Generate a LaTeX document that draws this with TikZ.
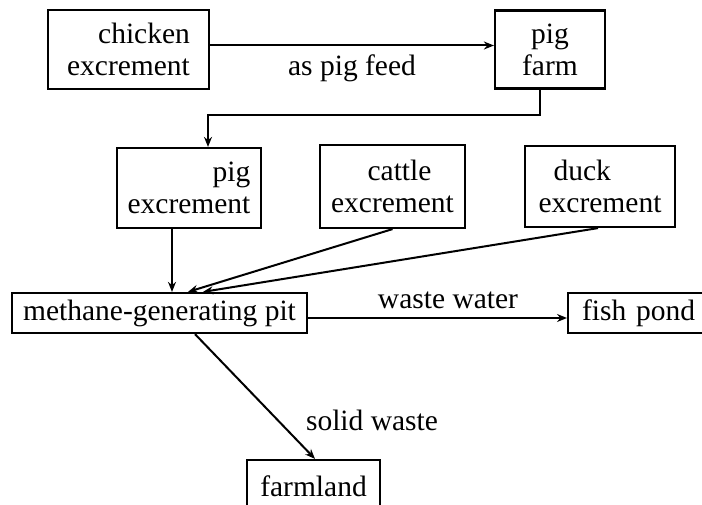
\documentclass[tikz,border=0pt]{standalone}
\usepackage{fontspec}
\setmainfont{Liberation Serif}
\usetikzlibrary{arrows.meta}
\begin{document}
\begin{tikzpicture}[x=1pt,y=-1pt,
  box/.style={draw,line width=2.2pt,inner sep=0pt,font=\fontsize{29.5}{32}\selectfont},
  lbl/.style={font=\fontsize{29.5}{32}\selectfont,inner sep=0pt},
  arr/.style={line width=2pt,-{Stealth[length=10pt,width=8pt]}}]
\useasboundingbox (0,0) rectangle (702,505);
\node[box,align=right,minimum width=161pt,minimum height=79pt] (ch) at (128.5,49.5) {chicken\\excrement};
\node[box,align=center,minimum width=110pt,minimum height=78pt] (pf) at (550,49.5) {pig\\farm};
\node[box,align=right,minimum width=144pt,minimum height=80pt] (pe) at (189,188) {pig\\excrement};
\node[box,align=center,minimum width=145pt,minimum height=83pt] (ce) at (392.5,186.5) {\hspace*{14pt}cattle\\excrement};
\node[box,align=left,minimum width=150pt,minimum height=81pt] (de) at (600,186.5) {\hspace*{15pt}duck\\excrement};
\node[box,minimum width=295pt,minimum height=40pt] (mp) at (159.5,313) {methane-generating pit};
\node[box,anchor=west,minimum width=150pt,minimum height=40pt,text width=140pt,align=left] (fp) at (567,313) {\hspace*{9pt}fish pond};
\node[box,minimum width=133pt,minimum height=52pt] (fl) at (313.5,486) {farmland};
\coordinate (m1) at (0,115);
\draw[arr] ([yshift=4pt]ch.east) -- ([yshift=4pt]pf.west);
\node[lbl] (l1) at (352,68) {as pig feed};
\draw[arr] ([xshift=-10pt]pf.south) -- ([xshift=-10pt]pf.south |- m1) -| ([xshift=19pt]pe.north);
\draw[arr] ([xshift=-17pt]pe.south) -- ([xshift=12.5pt]mp.north);
\draw[arr] (ce.south) -- ([xshift=28.5pt]mp.north);
\draw[arr] ([xshift=-2pt]de.south) -- ([xshift=43.5pt]mp.north);
\draw[arr] ([yshift=-5pt]mp.east) -- ([yshift=-5pt]fp.west);
\node[lbl] (l2) at (448,300) {waste water};
\draw[arr] ([xshift=35.5pt]mp.south) -- ([xshift=1.5pt]fl.north);
\node[lbl] (l3) at (372,420) {solid waste};
\end{tikzpicture}
\end{document}
